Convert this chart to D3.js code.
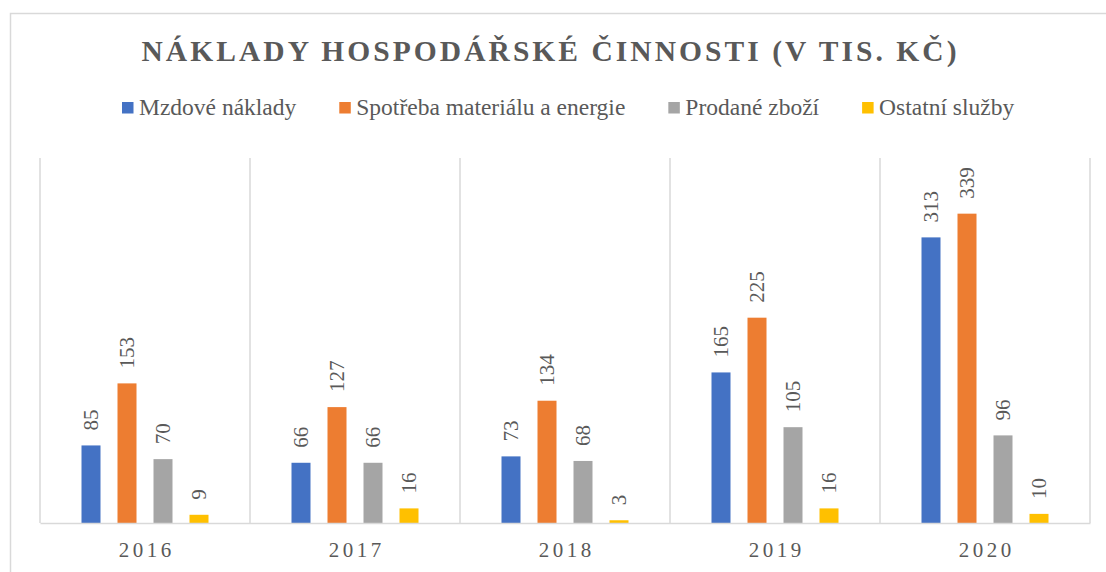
<!DOCTYPE html>
<html>
<head>
<meta charset="utf-8">
<script src="https://cdn.jsdelivr.net/npm/d3@7"></script>
<style>
  html, body { margin: 0; padding: 0; background: #fff; }
  svg { display: block; }
  text { font-family: "Liberation Serif", "Times New Roman", serif; fill: #595959; }
</style>
</head>
<body>
<svg id="chart" width="1106" height="572"></svg>
<script>
const title = "NÁKLADY HOSPODÁŘSKÉ ČINNOSTI (V TIS. KČ)";
const years = ["2016", "2017", "2018", "2019", "2020"];
const seriesNames = ["Mzdové náklady", "Spotřeba materiálu a energie", "Prodané zboží", "Ostatní služby"];
const seriesColors = ["#4472C4", "#ED7D31", "#A5A5A5", "#FFC000"];
const mzdove = [85, 66, 73, 165, 313];
const spotreba = [153, 127, 134, 225, 339];
const prodane = [70, 66, 68, 105, 96];
const ostatni = [9, 16, 3, 16, 10];
const seriesValues = [mzdove, spotreba, prodane, ostatni];

const svg = d3.select("#chart");

// outer frame
svg.append("rect")
  .attr("x", 10.5).attr("y", 13.5)
  .attr("width", 1130).attr("height", 620)
  .attr("fill", "none").attr("stroke", "#d9d9d9").attr("stroke-width", 1.5);

const plot = { left: 40, right: 1090, top: 158, bottom: 523 };

const x0 = d3.scaleBand().domain(years).range([plot.left, plot.right]).padding(0);
const x1 = d3.scaleBand().domain(seriesNames)
  .range([(x0.bandwidth() - 144) / 2, (x0.bandwidth() + 144) / 2])
  .paddingInner(17 / 36).paddingOuter(17 / 72);
const y = d3.scaleLinear().domain([0, 400]).range([plot.bottom, plot.top]);

// vertical category separators
const bounds = years.map(d => x0(d)).concat([x0(years[years.length - 1]) + x0.bandwidth()]);
svg.append("g").selectAll("line").data(bounds).join("line")
  .attr("x1", d => d).attr("x2", d => d)
  .attr("y1", plot.top).attr("y2", plot.bottom)
  .attr("stroke", "#d9d9d9").attr("stroke-width", 1.5);

// bars
const data = [];
years.forEach((yr, i) => {
  seriesNames.forEach((s, j) => data.push({ yr, s, j, v: seriesValues[j][i] }));
});

const g = svg.append("g");
g.selectAll("rect.bar").data(data).join("rect")
  .attr("class", "bar")
  .attr("x", d => x0(d.yr) + x1(d.s))
  .attr("width", x1.bandwidth())
  .attr("y", d => y(d.v))
  .attr("height", d => y(0) - y(d.v))
  .attr("fill", d => seriesColors[d.j]);

// data labels (rotated)
g.selectAll("text.lbl").data(data).join("text")
  .attr("class", "lbl")
  .attr("transform", d => `translate(${x0(d.yr) + x1(d.s) + x1.bandwidth() / 2},${y(d.v) - 15}) rotate(-90)`)
  .attr("dy", "0.34em")
  .attr("text-anchor", "start")
  .style("font-size", "21px")
  .text(d => d.v);

// x axis baseline
const xAxis = d3.axisBottom(x0).tickSize(0).tickPadding(0);
const ax = svg.append("g").attr("transform", `translate(0,${plot.bottom})`).call(xAxis);
ax.select(".domain").attr("stroke", "#d9d9d9").attr("stroke-width", 1.5);
ax.selectAll(".tick text")
  .attr("y", 34).attr("dy", 0)
  .attr("dx", "1.75px")
  .style("font-size", "21px")
  .style("letter-spacing", "3.5px")
  .style("font-family", "'Liberation Serif', 'Times New Roman', serif")
  .attr("fill", "#595959");

// title
svg.append("text")
  .attr("x", 141.5).attr("y", 61)
  .attr("text-anchor", "start")
  .attr("textLength", 815).attr("lengthAdjust", "spacing")
  .style("font-size", "29.5px").style("font-weight", "bold")
  .text(title);

// legend
const leg = svg.append("g");
let lx = 122;
seriesNames.forEach((s, j) => {
  leg.append("rect").attr("x", lx).attr("y", 102).attr("width", 11.5).attr("height", 11.5)
    .attr("fill", seriesColors[j]);
  const t = leg.append("text").attr("x", lx + 17).attr("y", 115)
    .style("font-size", "23.5px").text(s);
  lx += 17 + t.node().getComputedTextLength() + 43;
});
</script>
</body>
</html>
